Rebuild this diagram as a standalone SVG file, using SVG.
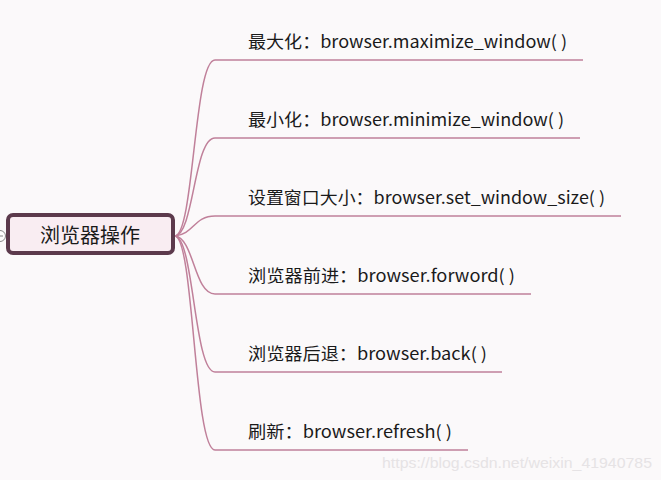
<svg xmlns="http://www.w3.org/2000/svg" width="661" height="480" viewBox="0 0 661 480">
<style>
.lbl{font-family:"Noto Sans CJK SC","Liberation Sans",sans-serif;font-size:17px;fill:#1a1a1a}
.br{fill:none;stroke:#c0809a;stroke-width:1.5}
</style>
<rect width="661" height="480" fill="#fbf9fa"/>
<g id="connectors">
<path class="br" d="M175,236 C194,234 194,60 215,60 L583,60"/>
<path class="br" d="M175,236 C194,234 194,138 215,138 L580,138"/>
<path class="br" d="M175,236 C194,234 194,216 215,216 L621,216"/>
<path class="br" d="M175,236 C194,238 194,294 215,294 L531,294"/>
<path class="br" d="M175,236 C194,238 194,372 215,372 L502,372"/>
<path class="br" d="M175,236 C194,238 194,450 215,450 L468,450"/>
</g>
<g id="collapse">
<circle cx="0" cy="236" r="5.5" fill="#fff" stroke="#888" stroke-width="1"/>
<line x1="-3" y1="236" x2="3" y2="236" stroke="#888" stroke-width="1"/>
</g>
<g id="root">
<rect x="8" y="215" width="165" height="38" rx="5" fill="#f9edf2" stroke="#5c3a4c" stroke-width="4"/>
<text x="90" y="243" text-anchor="middle" font-family="Noto Sans CJK SC,sans-serif" font-size="20" fill="#1a1a1a">浏览器操作</text>
</g>
<g id="n1"><text class="lbl" x="248" y="48" textLength="319" lengthAdjust="spacingAndGlyphs">最大化：browser.maximize_window( )</text></g>
<g id="n2"><text class="lbl" x="248" y="126" textLength="316" lengthAdjust="spacingAndGlyphs">最小化：browser.minimize_window( )</text></g>
<g id="n3"><text class="lbl" x="248" y="204" textLength="357" lengthAdjust="spacingAndGlyphs">设置窗口大小：browser.set_window_size( )</text></g>
<g id="n4"><text class="lbl" x="248" y="282" textLength="267" lengthAdjust="spacingAndGlyphs">浏览器前进：browser.forword( )</text></g>
<g id="n5"><text class="lbl" x="248" y="360" textLength="239" lengthAdjust="spacingAndGlyphs">浏览器后退：browser.back( )</text></g>
<g id="n6"><text class="lbl" x="248" y="438" textLength="204" lengthAdjust="spacingAndGlyphs">刷新：browser.refresh( )</text></g>
<text x="382" y="468" font-family="Liberation Sans,sans-serif" font-size="15.5" fill="#e6e3e5" textLength="270" lengthAdjust="spacingAndGlyphs">https://blog.csdn.net/weixin_41940785</text>
</svg>
